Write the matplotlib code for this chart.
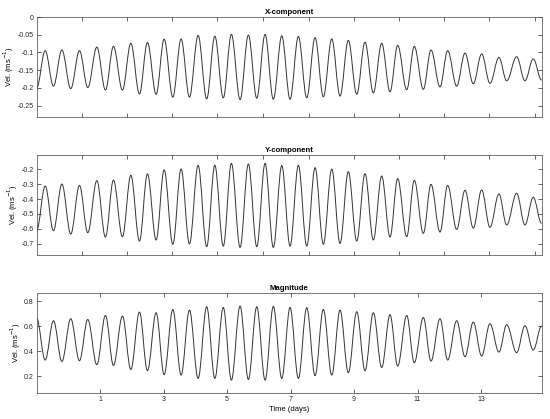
import numpy as np
import matplotlib
matplotlib.use("Agg")
import matplotlib.pyplot as plt
from matplotlib.path import Path
from matplotlib.patches import PathPatch
from matplotlib.ticker import FormatStrFormatter

plt.rcParams['font.family'] = ['Liberation Sans', 'DejaVu Sans']
plt.rcParams['axes.unicode_minus'] = False

# times (days) of the X/Y maxima
t_hi = [-0.732, -0.206, 0.348, 0.896, 1.419, 1.967, 2.490, 3.016, 3.551, 4.087,
        4.613, 5.135, 5.671, 6.197, 6.723, 7.246, 7.772, 8.298, 8.820, 9.346,
        9.872, 10.376, 10.899, 11.425, 11.951, 12.496, 13.022, 13.567, 14.124, 14.647]
# times of the X/Y minima (first and last sit on the axes edges)
t_lo = [-1.0, -0.471, 0.074, 0.610, 1.167, 1.702, 2.238, 2.764, 3.290, 3.813,
        4.357, 4.880, 5.409, 5.935, 6.457, 6.984, 7.510, 8.033, 8.559, 9.085,
        9.608, 10.134, 10.660, 11.183, 11.709, 12.235, 12.758, 13.283, 13.810,
        14.386, 14.91]

x_hi = [-0.095, -0.093, -0.095, -0.085, -0.083, -0.074, -0.072, -0.0625, -0.062, -0.052,
        -0.054, -0.049, -0.051, -0.049, -0.053, -0.055, -0.058, -0.062, -0.066, -0.071,
        -0.074, -0.080, -0.083, -0.093, -0.095, -0.102, -0.104, -0.114, -0.112, -0.118]
x_lo = [-0.20, -0.195, -0.202, -0.199, -0.206, -0.206, -0.217, -0.218, -0.226, -0.226,
        -0.231, -0.228, -0.233, -0.229, -0.232, -0.232, -0.228, -0.225, -0.223, -0.218,
        -0.214, -0.211, -0.205, -0.204, -0.197, -0.195, -0.188, -0.187, -0.180, -0.180, -0.178]

y_hi = [-0.312, -0.299, -0.308, -0.276, -0.272, -0.240, -0.231, -0.204, -0.198, -0.173,
        -0.173, -0.160, -0.164, -0.160, -0.175, -0.173, -0.189, -0.198, -0.216, -0.229,
        -0.245, -0.263, -0.274, -0.301, -0.308, -0.341, -0.339, -0.366, -0.361, -0.388]
y_lo = [-0.61, -0.613, -0.635, -0.626, -0.655, -0.653, -0.682, -0.675, -0.704, -0.702,
        -0.720, -0.716, -0.725, -0.720, -0.725, -0.716, -0.716, -0.704, -0.698, -0.682,
        -0.675, -0.655, -0.653, -0.630, -0.622, -0.604, -0.595, -0.590, -0.574, -0.574, -0.563]

# magnitude peaks fall on t_lo, troughs on t_hi
m_hi = [0.66, 0.643, 0.659, 0.653, 0.685, 0.680, 0.712, 0.707, 0.733, 0.728,
        0.755, 0.749, 0.760, 0.755, 0.757, 0.749, 0.747, 0.733, 0.728, 0.715,
        0.707, 0.691, 0.685, 0.669, 0.659, 0.643, 0.632, 0.619, 0.611, 0.603, 0.60]
m_lo = [0.328, 0.317, 0.323, 0.291, 0.285, 0.253, 0.243, 0.211, 0.208, 0.181,
        0.181, 0.168, 0.173, 0.168, 0.181, 0.181, 0.203, 0.208, 0.227, 0.243,
        0.269, 0.280, 0.307, 0.320, 0.328, 0.355, 0.360, 0.392, 0.387, 0.408]

titles = ["X-component", "Y-component", "Magnitude"]
ylims = [(-0.282, 0), (-0.776, -0.104), (0.062, 0.862)]
yticks = [[-0.25, -0.2, -0.15, -0.1, -0.05, 0],
          [-0.7, -0.6, -0.5, -0.4, -0.3, -0.2],
          [0.2, 0.4, 0.6, 0.8]]
top_xticks = [0.443, 1.860, 3.277, 4.694, 6.143, 7.583, 9.0, 10.417, 11.835, 13.252, 14.70]
day_ticks = [1, 3, 5, 7, 9, 11, 13]


def smooth_path(t_edge, v_edge, t_mid, v_mid):
    # extrema in time order: edge, mid, edge, mid, ..., edge
    ts, vs = [], []
    for i in range(len(t_mid)):
        ts += [t_edge[i], t_mid[i]]
        vs += [v_edge[i], v_mid[i]]
    ts.append(t_edge[-1])
    vs.append(v_edge[-1])
    verts = [(ts[0], vs[0])]
    codes = [Path.MOVETO]
    c = 0.364
    for i in range(1, len(ts)):
        dt = ts[i] - ts[i - 1]
        verts += [(ts[i - 1] + c * dt, vs[i - 1]), (ts[i] - c * dt, vs[i]), (ts[i], vs[i])]
        codes += [Path.CURVE4] * 3
    return Path(verts, codes)


paths = [smooth_path(t_lo, x_lo, t_hi, x_hi),
         smooth_path(t_lo, y_lo, t_hi, y_hi),
         smooth_path(t_lo, m_hi, t_hi, m_lo)]

fig = plt.figure(figsize=(5.5, 4.19), dpi=100)
bottoms = [0.7208, 0.3914, 0.0613]
for k in range(3):
    ax = fig.add_axes([0.0667, bottoms[k], 0.918, 0.2386])
    ax.add_patch(PathPatch(paths[k], fill=False, edgecolor='#333333', lw=0.7))
    ax.set_xlim(-1.0, 14.91)
    ax.set_ylim(*ylims[k])
    ax.set_yticks(yticks[k])
    ax.yaxis.set_major_formatter(FormatStrFormatter('%g'))
    if k < 2:
        ax.set_xticks(top_xticks)
        ax.set_xticklabels([])
    else:
        ax.set_xticks(day_ticks)
        ax.set_xlabel("Time (days)", fontsize=5.5, labelpad=2)
    ax.set_ylabel("Vel. (ms$^{-1}$)", fontsize=5.5, labelpad=1)
    ax.set_title(titles[k], fontsize=5.6, fontweight='bold', pad=2.5)
    ax.tick_params(direction='in', length=3, width=0.5, labelsize=5,
                   top=True, right=True, pad=2, colors='#262626')
    for s in ax.spines.values():
        s.set_linewidth(0.5)
        s.set_color('#404040')

fig.savefig("out.png", dpi=100)
